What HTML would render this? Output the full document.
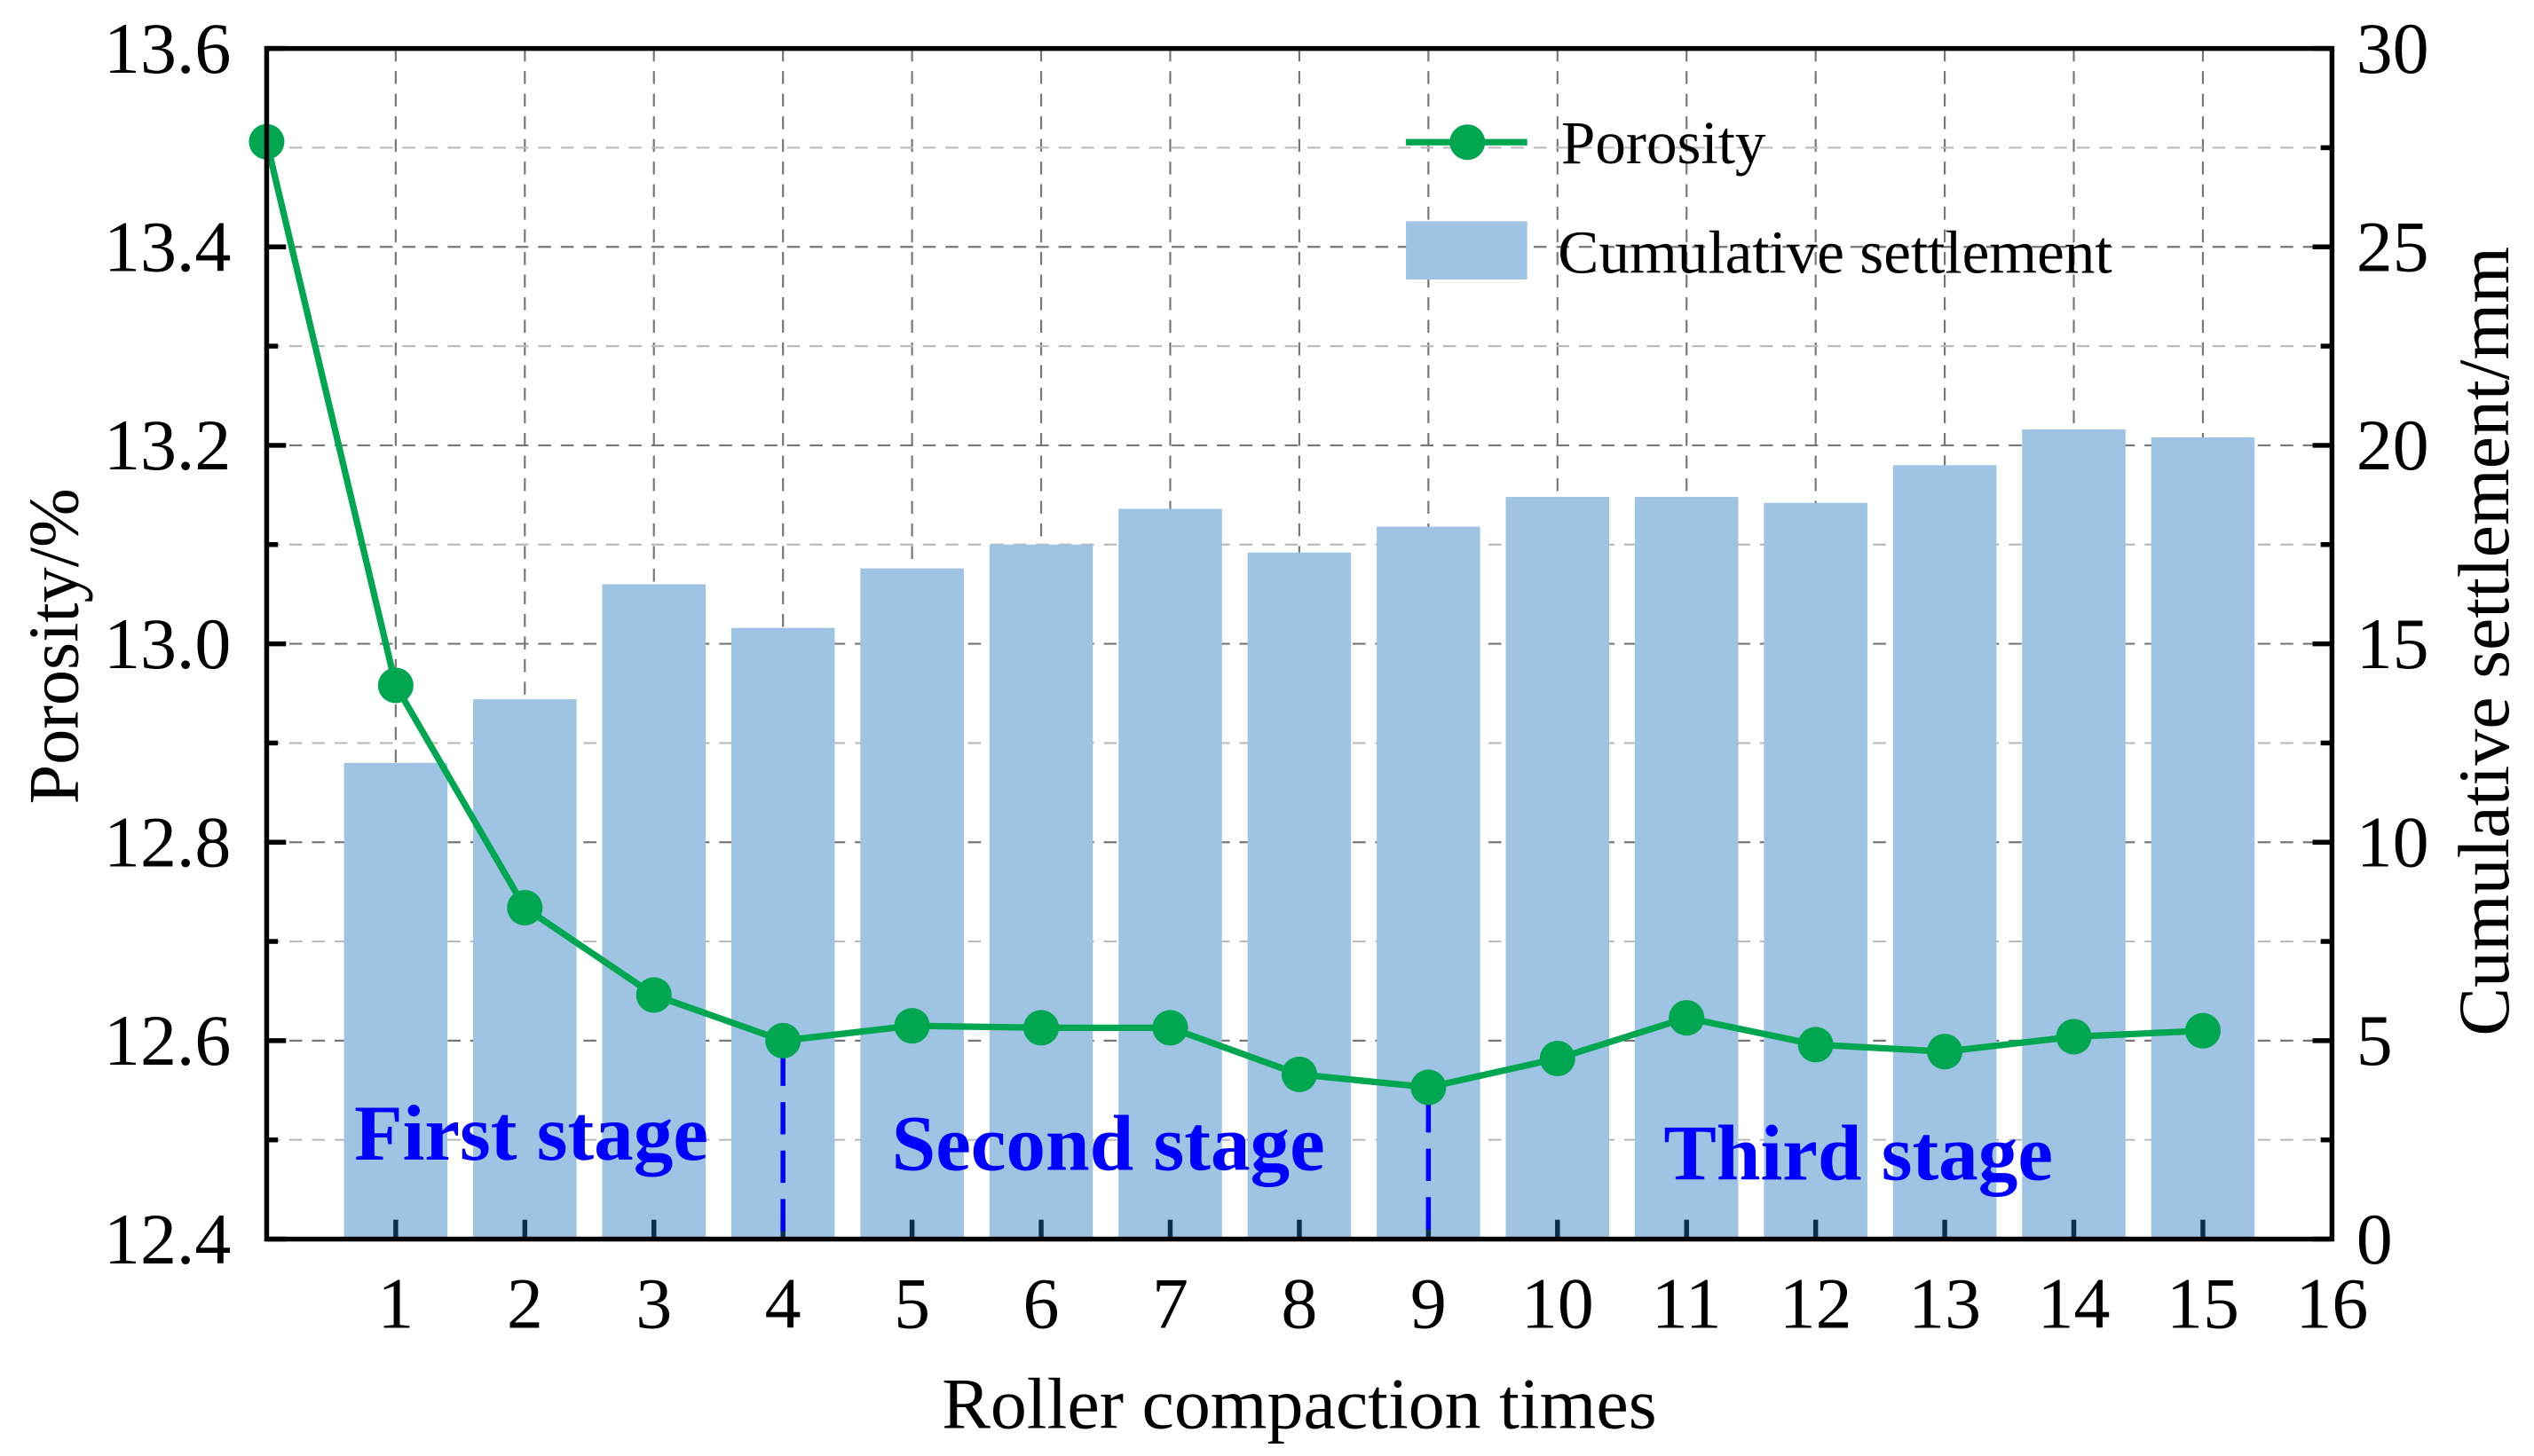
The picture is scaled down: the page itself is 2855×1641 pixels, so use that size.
<!DOCTYPE html>
<html><head><meta charset="utf-8"><style>
html,body{margin:0;padding:0;background:#fff;}
svg{display:block;font-family:"Liberation Serif",serif;}
</style></head><body>
<svg id="chart" width="2855" height="1641" viewBox="0 0 1568 901.26" xmlns="http://www.w3.org/2000/svg">
<g id="grid"></g>
<g id="bars"></g>
<g id="ticks"></g>
<g id="stages"></g>
<g id="line"></g>
<rect x="165" y="30" width="1278" height="737" fill="none" stroke="#000" stroke-width="3"/>
<g id="labels" font-size="45"></g>
<text transform="translate(48,400) rotate(-90)" text-anchor="middle" font-size="44">Porosity/%</text>
<text transform="translate(1552,397) rotate(-90)" text-anchor="middle" font-size="45">Cumulative settlement/mm</text>
<text x="804" y="884" text-anchor="middle" font-size="45">Roller compaction times</text>
<g>
<line x1="870" y1="88" x2="945" y2="88" stroke="#00a650" stroke-width="4"/>
<circle cx="908" cy="88" r="11" fill="#00a650"/>
<text x="966" y="101" font-size="38">Porosity</text>
<rect x="870" y="137" width="75" height="36" fill="#9fc3e2"/>
<text x="964" y="169" font-size="38">Cumulative settlement</text>
</g>
</svg>
<script>
const xs = [0,1,2,3,4,5,6,7,8,9,10,11,12,13,14,15];
const porosity = [13.506,12.958,12.734,12.646,12.600,12.615,12.613,12.613,12.566,12.553,12.582,12.623,12.596,12.589,12.604,12.610];
const barX = [1,2,3,4,5,6,7,8,9,10,11,12,13,14,15];
const settlement = [12.0,13.6,16.5,15.4,16.9,17.5,18.4,17.3,17.95,18.7,18.7,18.55,19.5,20.4,20.2];
const xTicks = [1,2,3,4,5,6,7,8,9,10,11,12,13,14,15,16];
const yTicks = [12.4,12.6,12.8,13.0,13.2,13.4,13.6];
const y2Ticks = [0,5,10,15,20,25,30];
const stages = ["First stage","Second stage","Third stage"];
const stageX = [2.05,6.52,12.33];
const stageY = [12.48,12.47,12.46];
const dividers = [4,9];

const NS="http://www.w3.org/2000/svg";
const L=165,R=1443,T=30,B=767;
const X=v=>L+(v/16)*(R-L);
const Y=v=>B-(v-12.4)/1.2*(B-T);
const Y2=v=>B-v/30*(B-T);
function mk(tag,attrs,parent){const e=document.createElementNS(NS,tag);for(const k in attrs)e.setAttribute(k,attrs[k]);parent.appendChild(e);return e;}
const grid=document.getElementById('grid'),bars=document.getElementById('bars'),ticks=document.getElementById('ticks'),stg=document.getElementById('stages'),line=document.getElementById('line'),labels=document.getElementById('labels');
for(let i=1;i<16;i++){const e=mk('line',{x1:X(i),x2:X(i),y1:T,y2:B,stroke:'#777','stroke-width':1.2,'stroke-dasharray':'8 6'},grid);

}
for(let k=1;k<12;k++){const v=12.4+k*0.1;const major=k%2===0;const e=mk('line',{x1:L,x2:R,y1:Y(v),y2:Y(v),stroke:major?'#777':'#bbb','stroke-width':1.2,'stroke-dasharray':'8 6'},grid);

}
barX.forEach((x,i)=>{const e=mk('rect',{x:X(x)-32,y:Y2(settlement[i]),width:64,height:B-Y2(settlement[i]),fill:'#9fc3e2'},bars);

});
xTicks.forEach(t=>{if(t<16){const e=mk('line',{x1:X(t),x2:X(t),y1:B,y2:B-12,stroke:'#0a3050','stroke-width':3},ticks);

}
const tx=mk('text',{x:X(t),y:822,'text-anchor':'middle'},labels);tx.textContent=t;

});
yTicks.forEach(t=>{const e=mk('line',{x1:L,x2:L+12,y1:Y(t),y2:Y(t),stroke:'#000','stroke-width':3},ticks);


const tx=mk('text',{x:143,y:Y(t)+15,'text-anchor':'end'},labels);tx.textContent=t.toFixed(1);

});
for(let k=1;k<12;k+=2){const e=mk('line',{x1:L,x2:L+7,y1:Y(12.4+k*0.1),y2:Y(12.4+k*0.1),stroke:'#000','stroke-width':3},ticks);

}
y2Ticks.forEach(t=>{const e=mk('line',{x1:R,x2:R-12,y1:Y2(t),y2:Y2(t),stroke:'#000','stroke-width':3},ticks);


const m=mk('line',{x1:R,x2:R-7,y1:Y2(t+2.5),y2:Y2(t+2.5),stroke:'#000','stroke-width':3},ticks);


const tx=mk('text',{x:1458,y:Y2(t)+15,'text-anchor':'start'},labels);tx.textContent=t;

});
dividers.forEach(d=>{const e=mk('line',{x1:X(d),x2:X(d),y1:Y(porosity[d])+8,y2:B,stroke:'#0000ff','stroke-width':3,'stroke-dasharray':'20 10'},stg);

});
stages.forEach((s,i)=>{const tx=mk('text',{x:X(stageX[i]),y:Y(stageY[i]),'font-size':49,'font-weight':'bold',fill:'#0000ff','text-anchor':'middle'},stg);tx.textContent=s;

});
const pl=mk('polyline',{points:xs.map((x,i)=>X(x)+','+Y(porosity[i])).join(' '),fill:'none',stroke:'#00a650','stroke-width':4},line);


xs.forEach((x,i)=>{const c=mk('circle',{cx:X(x),cy:Y(porosity[i]),r:11,fill:'#00a650'},line);

});
</script>
</body></html>
